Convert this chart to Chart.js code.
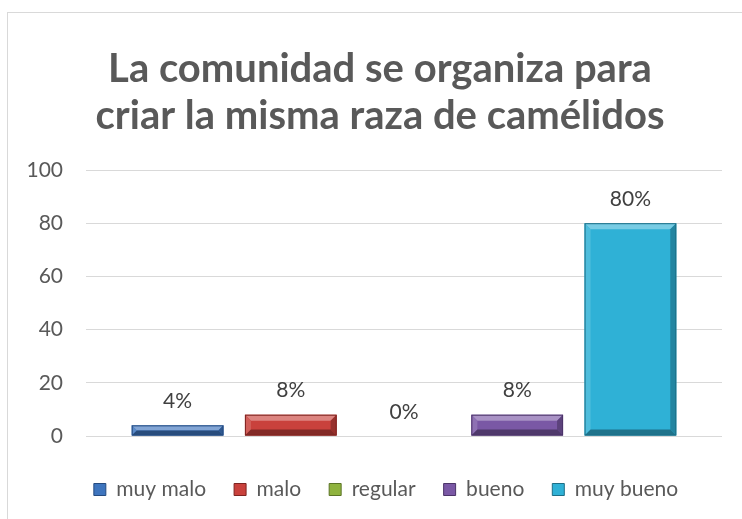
<!DOCTYPE html>
<html>
<head>
<meta charset="utf-8">
<title>Camélidos</title>
<script src="https://cdn.jsdelivr.net/npm/chart.js@4.4.1/dist/chart.umd.min.js"></script>
<style>
  html, body { margin: 0; padding: 0; background: #fff; overflow: hidden; }
  #frame { position: absolute; left: 7px; top: 12px; width: 800px; height: 600px;
           border-left: 1px solid #d9d9d9; border-top: 1px solid #d9d9d9; }
  #wrap { position: absolute; left: 0; top: 0; width: 742px; height: 519px; }
</style>
</head>
<body>
<div id="frame"></div>
<div id="wrap"><canvas id="myChart"></canvas></div>
<script>
// data
const seriesNames = ['muy malo', 'malo', 'regular', 'bueno', 'muy bueno'];
const seriesValues = [4, 8, 0, 8, 80];
const seriesColors = ['#3e75be', '#c9413c', '#8fb33e', '#7a58a5', '#2fb1d6'];
const seriesDark = ['#254b80', '#7e2421', '#5b7426', '#4c3469', '#1d6e86'];
const yTicks = [0, 20, 40, 60, 80, 100];
const titleLines = ['La comunidad se organiza para', 'criar la misma raza de camélidos'];

const FONT = 'Lato, "Open Sans", sans-serif';

function shade(hex, amt) {
    const n = parseInt(hex.slice(1), 16);
    let r = (n >> 16) & 255, g = (n >> 8) & 255, b = n & 255;
    const f = v => Math.max(0, Math.min(255, Math.round(amt > 0 ? v + (255 - v) * amt : v * (1 + amt))));
    return 'rgb(' + f(r) + ',' + f(g) + ',' + f(b) + ')';
}

// bevel + value labels
const bevelPlugin = {
    id: 'bevel',
    afterDatasetsDraw(chart) {
        const ctx = chart.ctx;
        chart.data.datasets.forEach((ds, i) => {
            const meta = chart.getDatasetMeta(i);
            meta.data.forEach((bar, j) => {
                const p = bar.getProps(['x', 'y', 'base', 'width'], true);
                const l = p.x - p.width / 2, r = p.x + p.width / 2;
                const t = Math.min(p.y, p.base), b = Math.max(p.y, p.base);
                const h = b - t;
                if (h > 1) {
                    const s = Math.min(6, h / 2);
                    const col = seriesColors[i];
                    ctx.save();
                    ctx.fillStyle = shade(col, 0.35);
                    ctx.beginPath();
                    ctx.moveTo(l, t); ctx.lineTo(r, t); ctx.lineTo(r - s, t + s); ctx.lineTo(l + s, t + s);
                    ctx.closePath(); ctx.fill();
                    ctx.fillStyle = shade(col, 0.15);
                    ctx.beginPath();
                    ctx.moveTo(l, t); ctx.lineTo(l + s, t + s); ctx.lineTo(l + s, b - s); ctx.lineTo(l, b);
                    ctx.closePath(); ctx.fill();
                    ctx.fillStyle = shade(col, -0.25);
                    ctx.beginPath();
                    ctx.moveTo(r, t); ctx.lineTo(r, b); ctx.lineTo(r - s, b - s); ctx.lineTo(r - s, t + s);
                    ctx.closePath(); ctx.fill();
                    ctx.fillStyle = shade(col, -0.35);
                    ctx.beginPath();
                    ctx.moveTo(l, b); ctx.lineTo(r, b); ctx.lineTo(r - s, b - s); ctx.lineTo(l + s, b - s);
                    ctx.closePath(); ctx.fill();
                    ctx.strokeStyle = seriesDark[i];
                    ctx.lineWidth = 1;
                    ctx.strokeRect(l + 0.5, t + 0.5, p.width - 1, h - 1);
                    ctx.restore();
                }
                ctx.save();
                ctx.fillStyle = '#404040';
                ctx.font = '21px ' + FONT;
                ctx.textAlign = 'center';
                ctx.textBaseline = 'middle';
                ctx.fillText(ds.data[j] + '%', p.x, t - 24);
                ctx.restore();
            });
        });
    }
};

// title and legend sit a bit right of centre, as in the original
const boxShift = {
    id: 'boxShift',
    afterLayout(chart) {
        if (chart.legend) {
            chart.legend.left += 25;
            chart.legend.right += 25;
        }
        if (chart.titleBlock) {
            chart.titleBlock.left += 19;
            chart.titleBlock.right += 19;
        }
    }
};

const datasets = seriesNames.map((name, i) => ({
    label: name,
    data: [seriesValues[i]],
    backgroundColor: seriesColors[i],
    borderColor: seriesDark[i],
    borderWidth: 0,
    categoryPercentage: 0.89,
    barPercentage: 0.81
}));

const config = {
    type: 'bar',
    data: { labels: [''], datasets: datasets },
    options: {
        responsive: true,
        maintainAspectRatio: false,
        animation: false,
        layout: { padding: { left: 0, right: 20, top: 0, bottom: 9 } },
        plugins: {
            title: {
                display: true,
                text: titleLines,
                color: '#595959',
                font: { family: FONT, size: 40, weight: 'bold', lineHeight: 1.175 },
                padding: { top: 46, bottom: 30 }
            },
            legend: {
                position: 'bottom',
                labels: {
                    color: '#595959',
                    font: { family: FONT, size: 21 },
                    boxWidth: 12,
                    boxHeight: 12,
                    padding: 28,
                    generateLabels(chart) {
                        return chart.data.datasets.map((ds, i) => ({
                            text: ds.label,
                            fillStyle: seriesColors[i],
                            strokeStyle: seriesDark[i],
                            lineWidth: 1,
                            datasetIndex: i,
                            fontColor: '#595959'
                        }));
                    }
                }
            },
            tooltip: { enabled: false }
        },
        scales: {
            x: {
                grid: { display: false },
                border: { display: false },
                ticks: { display: false },
                afterFit(scale) { scale.height = 15; }
            },
            y: {
                min: 0,
                max: 100,
                afterBuildTicks(scale) { scale.ticks = yTicks.map(v => ({ value: v })); },
                afterFit(scale) { scale.width = 86; },
                border: { display: false },
                grid: { color: '#d9d9d9', lineWidth: 1, drawTicks: false },
                ticks: {
                    color: '#595959',
                    font: { family: FONT, size: 21 },
                    padding: 23
                }
            }
        }
    },
    plugins: [bevelPlugin, boxShift]
};

const myChart = new Chart(document.getElementById('myChart'), config);
</script>
</body>
</html>
